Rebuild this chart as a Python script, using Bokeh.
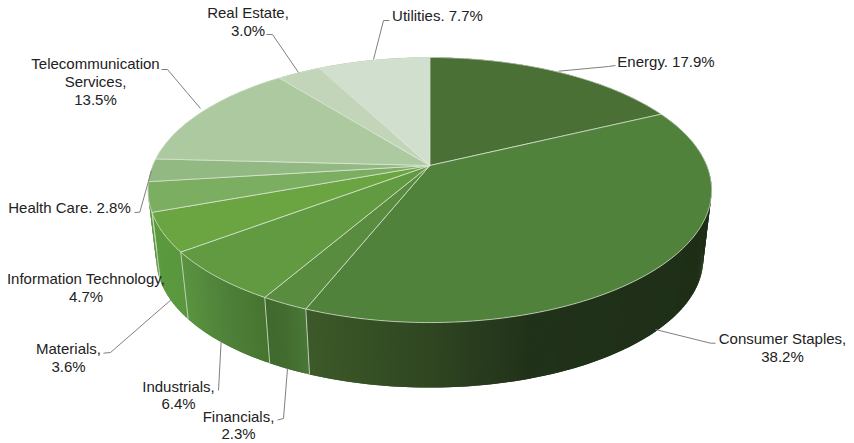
import numpy as np
from bokeh.embed import file_html
from bokeh.models import ColumnDataSource, Range1d
from bokeh.plotting import figure
from bokeh.resources import INLINE
from bokeh.core.properties import value

# Sector weights, clockwise from twelve o'clock
categories = ["Energy", "Consumer Staples", "Financials", "Industrials",
              "Information Technology", "Materials", "Health Care",
              "Telecommunication Services", "Real Estate", "Utilities"]
weights = [17.9, 38.2, 2.3, 6.4, 4.7, 3.6, 2.8, 13.5, 3.0, 7.7]

top_colors = ["#4a7035", "#50823c", "#5a8c3f", "#629a42", "#6ba542",
              "#7bae60", "#92b982", "#adc9a0", "#c2d5b8", "#d1dfce"]

# Side wall shading per sector: pixel x stops and colours
wall_stops = {
    "Energy": ([400, 700], ["#1f2f17", "#1f2f17"]),
    "Consumer Staples": ([304, 430, 530, 712], ["#3d5a29", "#2f4621", "#21321a", "#1f2f17"]),
    "Financials": ([267, 285, 308], ["#3f6a2e", "#436d30", "#4a7a36"]),
    "Industrials": ([180, 225, 267], ["#5a9440", "#4e8039", "#46742f"]),
    "Information Technology": ([150, 190], ["#5b9a3e", "#5a963f"]),
    "Materials": ([140, 170], ["#5b9a3e", "#5b9a3e"]),
    "Health Care": ([140, 170], ["#5b9a3e", "#5b9a3e"]),
    "Telecommunication Services": ([140, 170], ["#5b9a3e", "#5b9a3e"]),
    "Real Estate": ([140, 170], ["#5b9a3e", "#5b9a3e"]),
    "Utilities": ([140, 170], ["#5b9a3e", "#5b9a3e"]),
}

# Perspective disc: apex, half axes and foreshortening of the top face
CX, CY, A, B, K = 429.3, 165.0, 277.0, 128.0, 0.185
# The base is the same disc, slightly smaller and shifted down
BASE_SCALE, BASE_CY = 0.97, 234.7

LEADER = "#7f7f7f"
TEXT = "#222222"
FONT = value("Liberation Sans")
FONT_SIZE = "15px"


def top_rim(theta):
    d = 1 + K * np.cos(theta)
    return CX + A * np.sin(theta) / d, CY - B * np.cos(theta) / d


def base_rim(theta):
    x, y = top_rim(theta)
    return CX + BASE_SCALE * (x - CX), BASE_CY + BASE_SCALE * (y - CY)


def hex_rgb(h):
    return np.array([int(h[i:i + 2], 16) for i in (1, 3, 5)], dtype=float)


def shade(name, x):
    xs, cols = wall_stops[name]
    rgb = np.array([hex_rgb(c) for c in cols])
    vals = [int(round(np.interp(x, xs, rgb[:, i]))) for i in range(3)]
    return "#%02x%02x%02x" % tuple(vals)


p = figure(width=854, height=443, output_backend="svg", toolbar_location=None,
           x_range=Range1d(0, 854), y_range=Range1d(443, 0),
           min_border=0, outline_line_color=None, background_fill_color="white")
p.axis.visible = False
p.grid.visible = False

total = sum(weights)
edges = 2 * np.pi * np.cumsum([0] + weights) / total

# Side wall: overlapping vertical strips carrying the horizontal shading
wall_xs, wall_ys, wall_cs = [], [], []
for name, a0, a1 in zip(categories, edges[:-1], edges[1:]):
    steps = max(2, int(np.degrees(a1 - a0) / 0.7))
    t = np.linspace(a0, a1, steps + 1)
    dt = t[1] - t[0]
    for t0, t1 in zip(t[:-1], t[1:]):
        tail = min(t1 + dt, a1)
        x0, y0 = top_rim(t0)
        x1, y1 = top_rim(tail)
        x2, y2 = base_rim(tail)
        x3, y3 = base_rim(t0)
        xm = (top_rim(t0)[0] + top_rim(t1)[0]) / 2
        wall_xs.append([x0, x1, x2, x3])
        wall_ys.append([y0, y1, y2, y3])
        wall_cs.append(shade(name, xm))
p.patches(wall_xs, wall_ys, fill_color=wall_cs, line_color=None)

# Sector borders running down the wall
for a in edges[1:-1]:
    x0, y0 = top_rim(a)
    x1, y1 = base_rim(a)
    if np.cos(a) < 0:
        p.line([x0, x1], [y0, y1], line_color="#c9d4c2", line_width=0.9)

# Top face
for a0, a1, c in zip(edges[:-1], edges[1:], top_colors):
    t = np.linspace(a0, a1, max(3, int(np.degrees(a1 - a0)) + 1))
    x, y = top_rim(t)
    p.patch(np.r_[CX, x], np.r_[CY, y], fill_color=c,
            line_color="#dfe8da", line_width=0.7)

# Leader lines from the rim to the labels
leaders = [
    ([558, 608, 615], [70.7, 66, 65]),
    ([655, 710, 715], [329, 342.7, 342.7]),
    ([287, 283, 277], [368, 418, 419.5]),
    ([220.7, 218], [340, 390]),
    ([172, 110, 103], [298, 352, 352.7]),
    ([151, 139.3, 134], [170, 211.7, 212]),
    ([200, 167, 161], [108, 69, 69]),
    ([298, 272, 266], [72, 34, 34]),
    ([373, 383, 389], [59, 20, 20]),
]
for lx, ly in leaders:
    p.line(lx, ly, line_color=LEADER, line_width=1)

# Data labels
label_lines = [
    ("Energy. 17.9%", 665.5, 61),
    ("Consumer Staples,", 782, 338), ("38.2%", 782, 356),
    ("Financials,", 238, 416), ("2.3%", 238, 433),
    ("Industrials,", 178, 386), ("6.4%", 178, 403),
    ("Information Technology,", 85.5, 278), ("4.7%", 85.5, 296),
    ("Materials,", 68, 348), ("3.6%", 68, 366),
    ("Health Care. 2.8%", 69, 207),
    ("Telecommunication", 95, 63), ("Services,", 95, 81), ("13.5%", 95, 99),
    ("Real Estate,", 247.5, 12), ("3.0%", 247.5, 30),
    ("Utilities. 7.7%", 437, 15),
]
labels = ColumnDataSource(dict(
    x=[r[1] for r in label_lines],
    y=[r[2] for r in label_lines],
    text=[r[0] for r in label_lines],
))
p.text("x", "y", "text", source=labels, text_font=FONT, text_font_size=FONT_SIZE,
       text_color=TEXT, text_align="center", text_baseline="middle")

open("out.html", "w").write(file_html(p, INLINE))
